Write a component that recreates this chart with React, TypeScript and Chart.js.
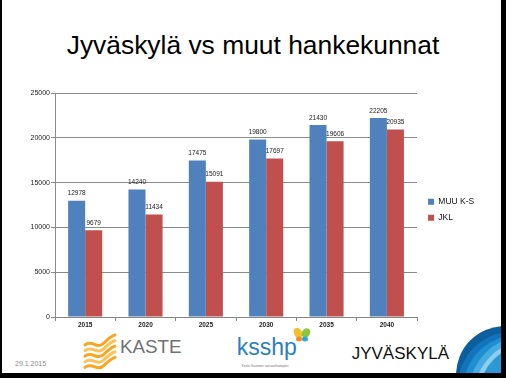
import React, { useEffect, useRef } from 'react';
import { Chart, registerables } from 'chart.js';

Chart.register(...registerables);

const years = ['2015', '2020', '2025', '2030', '2035', '2040'];
const muuKS = [12978, 14240, 17475, 19800, 21430, 22205];
const jkl = [9679, 11434, 15091, 17697, 19606, 20935];
const seriesNames = ['MUU K-S', 'JKL'];
const seriesColors = ['#4F81BD', '#C0504D'];
const yMin = 0;
const yMax = 25000;
const yStep = 5000;

const FONT = '"Liberation Sans", Arial, sans-serif';

const valueLabels = {
  id: 'valueLabels',
  afterDatasetsDraw(chart: any) {
    const ctx = chart.ctx;
    ctx.save();
    ctx.font = `6.5px ${FONT}`;
    ctx.fillStyle = '#1a1a1a';
    ctx.textAlign = 'center';
    ctx.textBaseline = 'bottom';
    chart.data.datasets.forEach((ds: any, i: number) => {
      const meta = chart.getDatasetMeta(i);
      meta.data.forEach((el: any, j: number) => {
        ctx.fillText(String(ds.data[j]), el.x, el.y - 4);
      });
    });
    ctx.restore();
  },
};

const legendNudge = {
  id: 'legendNudge',
  afterLayout(chart: any) {
    const l = chart.legend;
    if (!l) return;
    l.left += 3.5;
    l.right += 3.5;
    l.top -= 3.3;
    l.bottom -= 3.3;
  },
};

function BarChart() {
  const ref = useRef<HTMLCanvasElement | null>(null);
  useEffect(() => {
    if (!ref.current) return;
    const chart = new Chart(ref.current, {
      type: 'bar',
      data: {
        labels: years,
        datasets: [
          { label: seriesNames[0], data: muuKS, backgroundColor: seriesColors[0], borderWidth: 0 },
          { label: seriesNames[1], data: jkl, backgroundColor: seriesColors[1], borderWidth: 0 },
        ],
      },
      options: {
        animation: false,
        responsive: false,
        devicePixelRatio: 1,
        layout: { padding: { left: 15, top: 93, right: 25.3, bottom: 45 } },
        datasets: { bar: { categoryPercentage: 0.565, barPercentage: 1 } },
        plugins: {
          tooltip: { enabled: false },
          title: { display: false },
          legend: {
            position: 'right',
            align: 'center',
            labels: {
              boxWidth: 6,
              boxHeight: 6,
              padding: 7.5,
              color: '#111',
              font: { size: 8.5, family: FONT },
            },
          },
        },
        scales: {
          x: {
            grid: { display: true, drawOnChartArea: false, drawTicks: true, tickLength: 4, color: '#858585', offset: true },
            border: { color: '#858585' },
            ticks: { color: '#222', padding: 0, font: { size: 6.5, family: FONT, weight: 'bold' } },
            afterFit: (s: any) => { s.height = 16; },
          },
          y: {
            min: yMin,
            max: yMax,
            grid: { color: '#8a8a8a', tickLength: 4, lineWidth: 1 },
            border: { color: '#8a8a8a' },
            ticks: {
              stepSize: yStep,
              color: '#222',
              padding: 1,
              font: { size: 7, family: FONT },
              callback: (v: any) => String(v),
            },
            afterFit: (s: any) => { s.width = 40; },
          },
        },
      },
      plugins: [valueLabels, legendNudge],
    } as any);
    return () => chart.destroy();
  }, []);
  return (
    <canvas
      ref={ref}
      width={506}
      height={378}
      style={{ position: 'absolute', left: 0, top: 0, width: 506, height: 378 }}
    />
  );
}

function Decorations() {
  const paths = [0, 1, 2, 3, 4].map((i) => {
    const o = i * 5.6;
    return `M85 ${345 + o} C92 ${339 + o} 97 ${350 + o} 104 ${343 + o} S112 ${336 + o} 115 ${335 + o}`;
  });
  return (
    <svg width={506} height={378} style={{ position: 'absolute', left: 0, top: 0 }}>
      {paths.map((d, i) => (
        <path key={i} d={d} fill="none" stroke={i % 2 === 0 ? '#f6a622' : '#fbc35c'} strokeWidth={3} strokeLinecap="round" />
      ))}
      {/* butterfly */}
      <ellipse cx={298} cy={333} rx={4} ry={5.5} fill="#f2c12e" transform="rotate(-30 298 333)" />
      <ellipse cx={306} cy={333} rx={4} ry={5} fill="#8cc63f" transform="rotate(30 306 333)" />
      <ellipse cx={299} cy={339} rx={3} ry={2.5} fill="#f08a24" />
      <ellipse cx={305} cy={339} rx={3} ry={2.5} fill="#29a9e0" />
      {/* Jyväskylä blob */}
      <defs>
        <clipPath id="blobclip">
          <circle cx={505} cy={375} r={49} />
        </clipPath>
      </defs>
      <g clipPath="url(#blobclip)">
        <rect x={450} y={320} width={60} height={60} fill="#0b5f9f" />
        <circle cx={512} cy={386} r={54} fill="#1275bb" />
        <circle cx={518} cy={390} r={55} fill="#1e8fd0" />
        <circle cx={526} cy={393} r={57} fill="#44ace2" />
        <circle cx={530} cy={396} r={56} fill="#8fcdee" />
        <circle cx={533} cy={398} r={55} fill="#2e98d6" />
        <circle cx={540} cy={404} r={50} fill="#5ab8e8" />
        <circle cx={545} cy={409} r={46} fill="#1c86c8" />
      </g>
    </svg>
  );
}

export default function App() {
  return (
    <div style={{ position: 'fixed', left: 0, top: 0, width: 506, height: 378, background: '#000', overflow: 'hidden', fontFamily: FONT }}>
      <div style={{ position: 'absolute', left: 2, top: 0, width: 499, height: 373, background: '#fff', overflow: 'hidden' }}>
        <div style={{ position: 'absolute', left: -2, top: 31.7, width: 506, textAlign: 'center', fontSize: 26.4, lineHeight: 1, color: '#000', whiteSpace: 'nowrap' }}>
          Jyväskylä vs muut hankekunnat
        </div>
        <div style={{ position: 'absolute', left: 13, top: 359.6, fontSize: 7, lineHeight: 1, color: '#8a8a8a', whiteSpace: 'nowrap' }}>
          29.1.2015
        </div>
        <div style={{ position: 'absolute', left: 118, top: 338, fontSize: 18.8, lineHeight: 1, color: '#707173', whiteSpace: 'nowrap' }}>
          KASTE
        </div>
        <div style={{ position: 'absolute', left: 234.7, top: 335.5, fontSize: 23, lineHeight: 1, color: '#2b7fc1', whiteSpace: 'nowrap' }}>
          ksshp
        </div>
        <div style={{ position: 'absolute', left: 239.7, top: 364.5, fontSize: 3.4, lineHeight: 1, color: '#777', whiteSpace: 'nowrap' }}>
          Keski-Suomen sairaanhoitopiiri
        </div>
        <div style={{ position: 'absolute', left: 349.7, top: 344.9, fontSize: 17, lineHeight: 1, color: '#111', whiteSpace: 'nowrap' }}>
          JYVÄSKYLÄ
        </div>
        <div style={{ position: 'absolute', left: -2, top: 0 }}>
          <Decorations />
        </div>
      </div>
      <BarChart />
    </div>
  );
}
